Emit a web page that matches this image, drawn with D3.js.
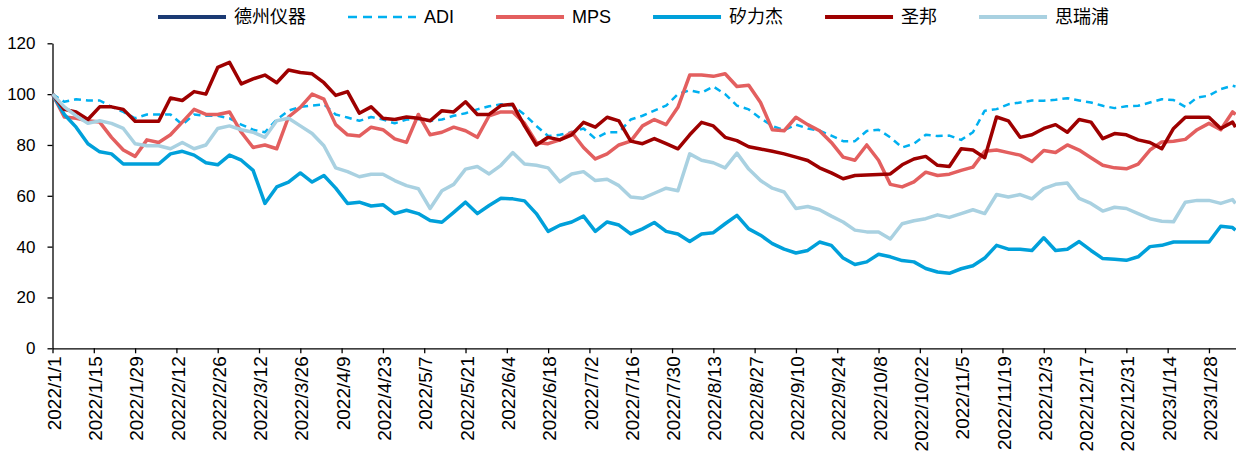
<!DOCTYPE html>
<html>
<head>
<meta charset="utf-8">
<script src="https://cdn.jsdelivr.net/npm/d3@7"></script>
<style>
  body { margin: 0; background: #fff; }
</style>
</head>
<body>
<svg id="chart" width="1236" height="455"></svg>
<script>
(function() {

// sample dates (every 4 calendar days)
var dates = [
  '2022/1/1','2022/1/5','2022/1/9','2022/1/13','2022/1/17','2022/1/21','2022/1/25','2022/1/29','2022/2/2','2022/2/6',
  '2022/2/10','2022/2/14','2022/2/18','2022/2/22','2022/2/26','2022/3/2','2022/3/6','2022/3/10','2022/3/14','2022/3/18',
  '2022/3/22','2022/3/26','2022/3/30','2022/4/3','2022/4/7',
  '2022/4/11','2022/4/15','2022/4/19','2022/4/23','2022/4/27','2022/5/1','2022/5/5','2022/5/9','2022/5/13','2022/5/17',
  '2022/5/21','2022/5/25','2022/5/29','2022/6/2','2022/6/6','2022/6/10','2022/6/14','2022/6/18','2022/6/22','2022/6/26',
  '2022/6/30','2022/7/4','2022/7/8','2022/7/12','2022/7/16',
  '2022/7/20','2022/7/24','2022/7/28','2022/8/1','2022/8/5','2022/8/9','2022/8/13','2022/8/17','2022/8/21','2022/8/25',
  '2022/8/29','2022/9/2','2022/9/6','2022/9/10','2022/9/14','2022/9/18','2022/9/22','2022/9/26','2022/9/30','2022/10/4',
  '2022/10/8','2022/10/12','2022/10/16','2022/10/20','2022/10/24',
  '2022/10/28','2022/11/1','2022/11/5','2022/11/9','2022/11/13','2022/11/17','2022/11/21','2022/11/25','2022/11/29','2022/12/3',
  '2022/12/7','2022/12/11','2022/12/15','2022/12/19','2022/12/23','2022/12/27','2022/12/31','2023/1/4','2023/1/8','2023/1/12',
  '2023/1/16','2023/1/20','2023/1/24','2023/1/28','2023/2/1','2023/2/5','2023/2/6'
];

var tickLabels = [
  '2022/1/1','2022/1/15','2022/1/29','2022/2/12','2022/2/26','2022/3/12','2022/3/26','2022/4/9',
  '2022/4/23','2022/5/7','2022/5/21','2022/6/4','2022/6/18','2022/7/2','2022/7/16','2022/7/30',
  '2022/8/13','2022/8/27','2022/9/10','2022/9/24','2022/10/8','2022/10/22','2022/11/5','2022/11/19',
  '2022/12/3','2022/12/17','2022/12/31','2023/1/14','2023/1/28'
];

var yTicks = [0, 20, 40, 60, 80, 100, 120];

var seriesNames = ['德州仪器', 'ADI', 'MPS', '矽力杰', '圣邦', '思瑞浦'];

// 德州仪器 is in the legend but no line of it shows in the picture
var tiValues = [];

var adiValues = [
  100, 97, 98, 97.5, 97.5, 95, 93, 90.5, 92, 92, 92, 88, 92, 91.5, 91.5, 90.5, 88, 86, 85, 90, 93.5, 95, 95.5, 96, 92,
  90.8, 89.5, 91, 90, 88.5, 90, 90.2, 89.5, 90, 91.5, 92.5, 94, 95.2, 96, 95.5, 92, 87.5, 83.5, 84, 85, 86.5, 82.5, 85, 85, 90,
  91.5, 93.5, 95.5, 100, 101.5, 100.5, 103, 100, 95.5, 94, 90.5, 87.5, 85.8, 88, 86.5, 85.6, 83.7, 81.5, 81.5, 85.5, 86, 83, 79, 80.5, 84,
  83.5, 83.7, 82, 85, 93.5, 94.1, 96, 96.7, 97.5, 97.4, 97.8, 98.4, 97.5, 96.7, 95.4, 94.5, 95.2, 95.4, 96.7, 98, 97.7, 95, 98.7, 99.4, 102, 103.3, 103
];

var mpsValues = [
  100, 91, 90.5, 89.5, 89, 83, 78, 75.5, 82, 81, 84, 89, 94, 92, 92, 93, 85, 79, 80, 78.5, 91, 94.8, 100, 98, 88,
  84, 83.5, 87, 86, 82.4, 81, 92, 84, 85, 87, 85.6, 83, 91.5, 93, 93, 88.5, 81, 80.5, 82, 85, 79, 74.5, 76.5, 80, 81.5,
  87.5, 90, 88, 94.8, 107.5, 107.5, 107, 108, 103, 103.5, 96.7, 86, 85.6, 90.9, 88, 85.6, 81, 75.2, 74, 80, 74, 64.5, 63.5, 65.5, 69.3,
  68, 68.5, 70, 71.3, 77.5, 78, 77, 76, 73.5, 77.8, 77, 80, 78, 75, 72, 71, 70.6, 72.5, 78, 81.2, 81.5, 82.2, 86, 88.5, 86, 93, 92
];

var silergyValues = [
  100, 92, 87, 80.5, 77.3, 76.5, 72.5, 72.5, 72.5, 72.5, 76.5, 77.5, 76, 73, 72.2, 76, 74, 70, 57, 63.5, 65.4, 69, 65.4, 68, 63,
  57, 57.5, 56, 56.5, 53, 54.3, 53, 50.3, 49.6, 53.5, 57.5, 53, 56.2, 59, 58.8, 58, 53, 46, 48.4, 49.7, 52, 46, 49.7, 48.5, 45,
  47, 49.5, 46, 45, 42, 45, 45.5, 49, 52.3, 47, 44.5, 41.2, 39, 37.5, 38.5, 41.8, 40.5, 35.5, 33, 34, 37, 36, 34.5, 34, 31.4,
  30, 29.5, 31.3, 32.5, 35.5, 40.5, 39, 39, 38.5, 43.5, 38.5, 39, 42, 38.5, 35.3, 35, 34.6, 36, 40, 40.5, 41.8, 41.8, 41.8, 41.8, 48, 47.5, 46.5
];

var sgmicroValues = [
  100, 94, 93, 90, 95, 95, 94, 89.3, 89.3, 89.3, 98.5, 97.5, 101, 100, 110.5, 112.5, 104, 106, 107.5, 104.5, 109.5, 108.5, 108, 104.5, 99.5,
  101, 92.5, 95, 90.5, 90, 91, 90.5, 89.5, 93.5, 93, 97, 92, 92, 95.5, 96, 87.5, 80, 83, 82, 84, 88.9, 87, 90.9, 89.5, 81.5,
  80.5, 82.5, 80.5, 78.5, 84, 88.9, 87.5, 83, 81.7, 79.3, 78.4, 77.5, 76.5, 75.2, 73.9, 71, 69, 66.7, 68, 68.2, 68.4, 68.6, 72.2, 74.5, 75.5,
  72, 71.5, 78.5, 78, 75, 91, 89.5, 83, 84, 86.5, 88, 85, 90, 89, 82.5, 84.5, 84, 82, 81, 78.5, 86.5, 90.9, 90.9, 90.9, 86.5, 89, 87
];

var threepeakValues = [
  100, 95, 91.5, 88.5, 89.5, 88.5, 86.5, 80.5, 79.7, 79.7, 78.5, 81, 78.5, 80, 86.5, 87.5, 86, 85, 83, 89.5, 90.5, 87.5, 84.5, 79.7, 71,
  69.5, 67.5, 68.5, 68.5, 66, 64, 62.8, 55, 62, 64.5, 70.5, 71.5, 68.6, 72, 77, 72.5, 72, 71, 65.5, 68.6, 69.5, 66, 66.5, 64, 59.5,
  59, 61, 63, 62, 76.5, 74, 73, 71, 76.8, 70.5, 66, 63, 61.5, 55, 55.8, 54.5, 52, 49.7, 46.5, 45.8, 45.8, 43, 49, 50.2, 51,
  52.5, 51.5, 53, 54.5, 53, 60.5, 59.5, 60.5, 58.8, 62.8, 64.5, 65, 59, 57, 54, 55.5, 55, 53, 51, 50, 49.8, 57.5, 58.2, 58.2, 57, 58.5, 57
];

var seriesValues = [tiValues, adiValues, mpsValues, silergyValues, sgmicroValues, threepeakValues];
var seriesColors = ['#1B3A73', '#00B0F0', '#E35F5F', '#00A0DA', '#9E0000', '#A9D1E1'];
var seriesDash = [null, '7,5', null, null, null, null];
var seriesWidth = [3.5, 2.5, 3.5, 3.5, 3.5, 3.5];

function parseDate(s) {
    var p = s.split('/');
    return new Date(+p[0], +p[1] - 1, +p[2]);
}

var svg = d3.select('#chart'),
    margin = {top: 43.3, right: 0.5, bottom: 106.7, left: 52.5},
    width = +svg.attr('width') - margin.left - margin.right,
    height = +svg.attr('height') - margin.top - margin.bottom;

var g = svg.append('g')
    .attr('transform', 'translate(' + margin.left + ',' + margin.top + ')');

var x = d3.scaleTime()
    .domain([parseDate('2022/1/1'), parseDate('2023/2/6')])
    .range([0, width]);

var y = d3.scaleLinear()
    .domain([0, 120])
    .range([height, 0]);

// axes
var xAxis = g.append('g')
    .attr('transform', 'translate(0,' + height + ')')
    .call(d3.axisBottom(x)
        .tickValues(tickLabels.map(parseDate))
        .tickSize(5)
        .tickSizeOuter(0)
        .tickFormat(function(d, i) { return tickLabels[i]; }));

xAxis.attr('font-family', '"Liberation Sans", Arial, sans-serif')
    .attr('font-size', 19);
xAxis.selectAll('path, line').attr('stroke', '#000').attr('stroke-width', 1.3);
xAxis.selectAll('text')
    .attr('fill', '#000')
    .attr('transform', 'rotate(-90)')
    .attr('x', -8)
    .attr('y', 0)
    .attr('dy', '0.4em')
    .style('text-anchor', 'end');

var yAxis = g.append('g')
    .call(d3.axisLeft(y)
        .tickValues(yTicks)
        .tickSize(5)
        .tickSizeOuter(0)
        .tickPadding(12));

yAxis.attr('font-family', '"Liberation Sans", Arial, sans-serif')
    .attr('font-size', 17);
yAxis.selectAll('path, line').attr('stroke', '#000').attr('stroke-width', 1.3);
yAxis.selectAll('text').attr('fill', '#000');

// lines
var line = d3.line()
    .defined(function(d) { return d.value != null; })
    .x(function(d) { return x(d.date); })
    .y(function(d) { return y(d.value); });

seriesNames.forEach(function(name, k) {
    var pts = seriesValues[k].map(function(v, i) {
        return {date: parseDate(dates[i]), value: v};
    });
    g.append('path')
        .datum(pts)
        .attr('fill', 'none')
        .attr('stroke', seriesColors[k])
        .attr('stroke-width', seriesWidth[k])
        .attr('stroke-dasharray', seriesDash[k])
        .attr('stroke-linejoin', 'round')
        .attr('d', line);
});

// legend
var legend = svg.append('g')
    .attr('transform', 'translate(0,17)');

var lx = 158;
seriesNames.forEach(function(name, k) {
    var item = legend.append('g');
    item.append('line')
        .attr('x1', lx)
        .attr('x2', lx + 68)
        .attr('y1', 0)
        .attr('y2', 0)
        .attr('stroke', seriesColors[k])
        .attr('stroke-width', seriesDash[k] ? 2.5 : 4)
        .attr('stroke-dasharray', seriesDash[k] ? '9,6' : null);
    var t = item.append('text')
        .attr('x', lx + 76)
        .attr('y', 0)
        .attr('dy', '0.35em')
        .attr('font-family', '"Liberation Sans", "Noto Sans CJK SC", Arial, sans-serif')
        .attr('font-size', 18)
        .attr('fill', '#000')
        .text(name);
    lx += 76 + t.node().getComputedTextLength() + 42;
});

})();
</script>
</body>
</html>
